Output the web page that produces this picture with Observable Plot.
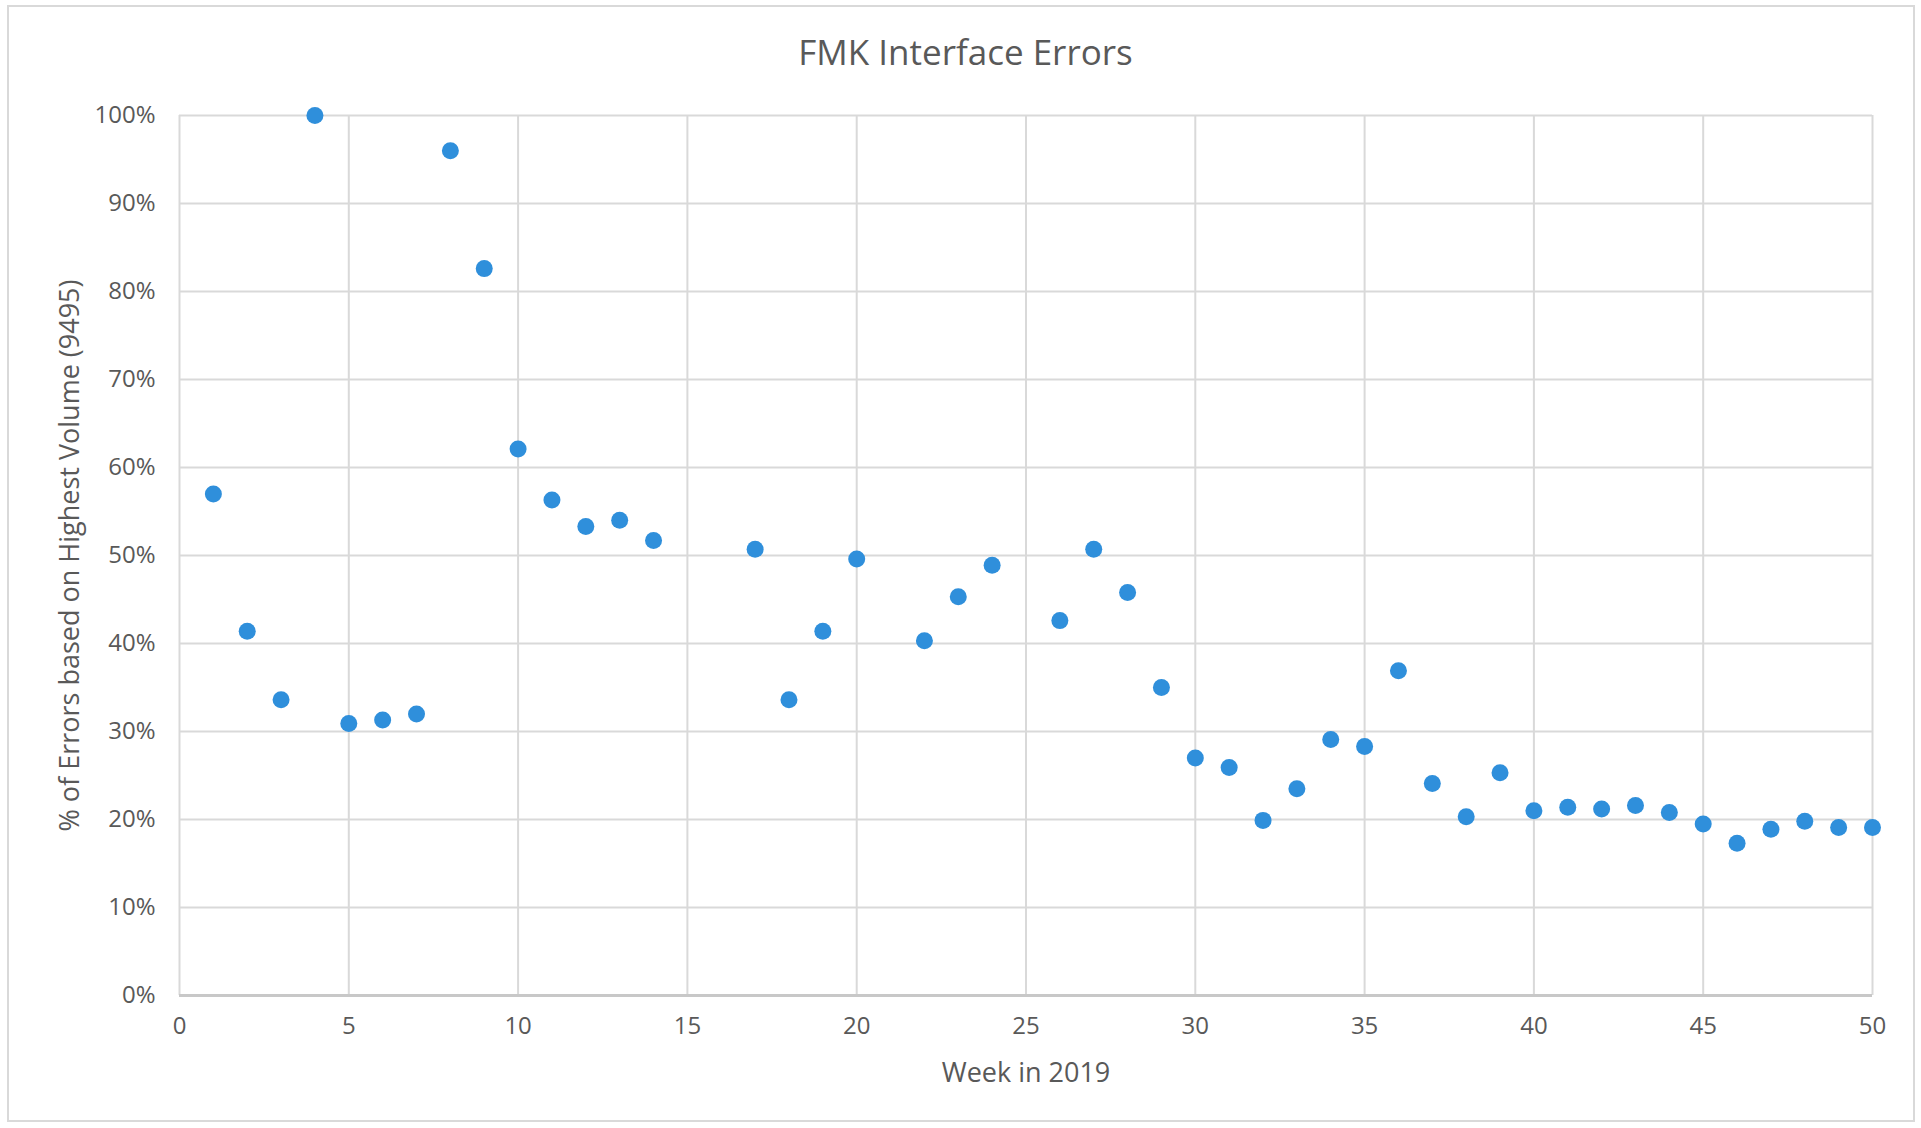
<!DOCTYPE html>
<html>
<head>
<meta charset="utf-8">
<script src="https://cdn.jsdelivr.net/npm/d3@7"></script>
<script src="https://cdn.jsdelivr.net/npm/@observablehq/plot@0.6"></script>
<style>
  html, body { margin: 0; padding: 0; background: #fff; }
  #wrap { position: relative; width: 1921px; height: 1128px; overflow: hidden; font-family: "Open Sans", sans-serif; }
  #border { position: absolute; left: 7px; top: 5px; width: 1908px; height: 1117px; border: 2px solid #d9d9d9; box-sizing: border-box; }
  #title { position: absolute; left: 0; width: 1931px; top: 28px; text-align: center; font-size: 35px; color: #595959; font-family: "Open Sans", sans-serif; }
  #chart { position: absolute; left: 0; top: 0; }
</style>
</head>
<body>
<div id="wrap">
  <div id="border"></div>
  <div id="chart"></div>
  <div id="title">FMK Interface Errors</div>
</div>
<script>
const weeks = [1,2,3,4,5,6,7,8,9,10,11,12,13,14,17,18,19,20,22,23,24,26,27,28,29,30,31,32,33,34,35,36,37,38,39,40,41,42,43,44,45,46,47,48,49,50];
const errorPct = [57.0,41.4,33.6,100,30.9,31.3,32.0,96.0,82.6,62.1,56.3,53.3,54.0,51.7,50.7,33.6,41.4,49.6,40.3,45.3,48.9,42.6,50.7,45.8,35.0,27.0,25.9,19.9,23.5,29.1,28.3,36.9,24.1,20.3,25.3,21.0,21.4,21.2,21.6,20.8,19.5,17.3,18.9,19.8,19.1,19.1];
const xTicks = [0,5,10,15,20,25,30,35,40,45,50];
const yTicks = [0,10,20,30,40,50,60,70,80,90,100];

const data = weeks.map((w, i) => ({week: w, pct: errorPct[i]}));

const chart = Plot.plot({
  width: 1921,
  height: 1128,
  marginLeft: 179,
  marginRight: 49,
  marginTop: 115,
  marginBottom: 133,
  style: {fontFamily: "'Open Sans', sans-serif", fontSize: "24px", color: "#595959", background: "transparent"},
  x: {domain: [0, 50], ticks: xTicks, tickSize: 0, tickPadding: 21, label: "Week in 2019", labelArrow: "none", labelAnchor: "center", labelOffset: 86},
  y: {domain: [0, 100], ticks: yTicks, tickSize: 0, tickPadding: 24, tickFormat: d => d + "%", label: "% of Errors based on Highest Volume (9495)", labelArrow: "none", labelAnchor: "center", labelOffset: 120},
  marks: [
    Plot.gridX(xTicks, {stroke: "#d9d9d9", strokeOpacity: 1, strokeWidth: 2}),
    Plot.gridY(yTicks, {stroke: "#d9d9d9", strokeOpacity: 1, strokeWidth: 2}),
    Plot.ruleY([0], {stroke: "#c8c8c8", strokeWidth: 3}),
    Plot.dot(data, {x: "week", y: "pct", r: 8.5, fill: "#2f8fdb", stroke: "none"})
  ]
});
chart.querySelectorAll("[aria-label='x-axis label'] text, [aria-label='y-axis label'] text").forEach(t => t.style.fontSize = "27px");
document.getElementById("chart").appendChild(chart);
</script>
</body>
</html>
